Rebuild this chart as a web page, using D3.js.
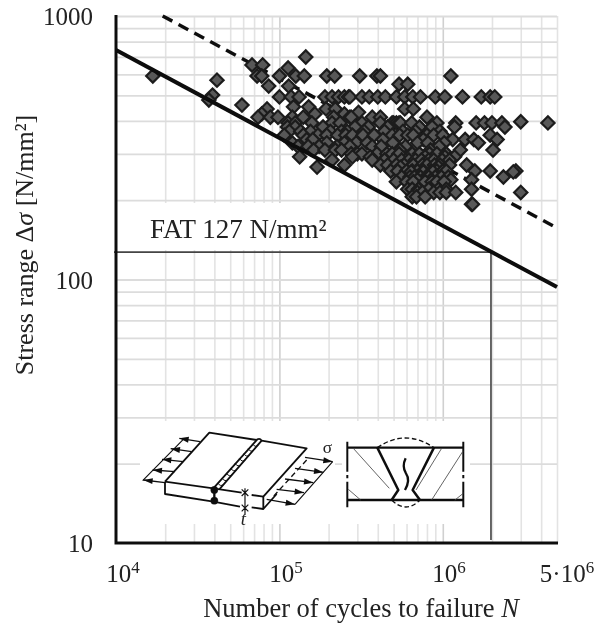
<!DOCTYPE html>
<html><head><meta charset="utf-8">
<script src="https://cdn.jsdelivr.net/npm/d3@7"></script>
<style>html,body{margin:0;padding:0;background:#fff}svg{display:block}text{font-family:"Liberation Serif",serif;fill:#222}</style>
</head><body><div id="c"></div>
<script>
// stress range levels (N/mm²) and the cycles to failure read at each level
const stressLevels=[699,652,635,592,571,551,542,501,493,480,459,452,444,431,425,413,397,393,379,365,353,340,330,320,310,300,292,284,272,267,258,256,245,239,235,220,214,206,193];
const cyclesAtLevel=[
[1.45e5],
[6.8e4,7.9e4],
[1.13e5],
[1.68e4,7.3e4,7.8e4,1e5,1.26e5,1.42e5,1.95e5,2.18e5,3.1e5,3.95e5,4.15e5,1.12e6],
[4.15e4],
[5.4e5,6.1e5],
[8.6e4,1.14e5],
[3.9e4],
[1e5,1.18e5,1.32e5,1.9e5,2.1e5,2.3e5,2.5e5,2.65e5,2.7e5,3.2e5,3.55e5,4e5,4.45e5,5.2e5,5.85e5,6.55e5,7.3e5,9e5,1.03e6,1.32e6,1.72e6,1.95e6,2.08e6],
[3.7e4],
[5.9e4],
[1.22e5,1.51e5],
[8.4e4,1.93e5,2.2e5,5.85e5,6.6e5],
[3.05e5],
[7.8e4,1.65e5,2.5e5],
[7.4e4,8.8e4,9.8e4,1.2e5,1.4e5,2.15e5,2.7e5,2.75e5,3.7e5,4.15e5,8e5],
[3e6],
[1.13e5,1.25e5,1.58e5,2.1e5,2.35e5,3.2e5,4.15e5,4.9e5,5e5,5.2e5,5.4e5,5.5e5,6.45e5,9.2e5,1.2e6,1.6e6,1.8e6,2e6,2.3e6,4.4e6],
[1.12e5,1.25e5,1.85e5,2.9e5,3.5e5,4.6e5,7.2e5,8.6e5,1.18e6,2.4e6],
[1.15e5,1.35e5,1.55e5,2.05e5,2.4e5,2.6e5,3.3e5,4.4e5,5.7e5,6.8e5,9.6e5],
[1.07e5,1.4e5,1.72e5,1.95e5,2.27e5,2.55e5,2.8e5,3.25e5,3.8e5,4.9e5,5.45e5,6.1e5,6.6e5,8e5,8.8e5,1e6,1.95e6],
[1.47e5,1.6e5,4.3e5,7.6e5,1.15e6,1.37e6,1.55e6,2.15e6],
[1.2e5,1.95e5,2.5e5,2.95e5,3.45e5,4.95e5,7e5,8.1e5,1.02e6,1.65e6],
[1.3e5,1.5e5,1.75e5,2.25e5,2.7e5,3.7e5,4.2e5,5.9e5,9.5e5],
[1.62e5,1.9e5,2.2e5,2.4e5,5.45e5,8.4e5,1.28e6,2.03e6],
[2.75e5,3e5,3.2e5,3.95e5,4.55e5,4.9e5,5.4e5,6.5e5,7.2e5,8.3e5,9.2e5,1.05e6],
[1.33e5,2.8e5,3.6e5,7.8e5,1.03e6,1.18e6],
[2.1e5,3.7e5,4.4e5,5e5,5.6e5,6.2e5,6.8e5,7.4e5,8.2e5,8.8e5,9.9e5,1.1e6],
[2.5e5,4.15e5,4.6e5,5.2e5,5.8e5,6.6e5,7.5e5,8e5,8.9e5,9.6e5,1.1e6,1.4e6],
[1.7e5,5.5e5,9.4e5],
[4.8e5,5.3e5,6e5,6.5e5,7e5,7.6e5,8.5e5,9.2e5,1e6,1.05e6,1.57e6,1.95e6,2.8e6],
[6.4e5,7.6e5,8.7e5,2.7e6],
[5.6e5,6.3e5,6.7e5,7.3e5,7.9e5,8.2e5,9e5,9.8e5,1.08e6,2.35e6],
[7e5,8.5e5,1.12e6,1.5e6],
[5.2e5,6e5,6.6e5,7.8e5,8.6e5,9.2e5,1.02e6],
[6.1e5,6.5e5,7.1e5,8.2e5,9.4e5,1.05e6,1.5e6],
[7e5,7.5e5,8.8e5,9.6e5,1.05e6,1.2e6,3e6],
[6.5e5,6.9e5,7.8e5],
[1.5e6,1.52e6]
];
const xDomain=[1e4,5e6], yDomain=[10,1000];
const xGridValues=[2e4,3e4,4e4,5e4,6e4,7e4,8e4,9e4,1e5,2e5,3e5,4e5,5e5,6e5,7e5,8e5,9e5,1e6,2e6,3e6,4e6,5e6];
const yGridValues=[20,30,40,50,60,70,80,90,100,200,300,400,500,600,700,800,900,1000];
const yTickValues=[10,100,1000];
const xTickLabels=[[1e4,"","4"],[1e5,"","5"],[1e6,"","6"],[5e6,"5·","6"]];
const fatClass=127, fatCycles=2e6, meanAtFat=213, slope=3, lineEnds=[1e4,5e6], dashedEnds=[19300,5e6];

const W=601,H=625,ml=116,mr=557,mt=16,mb=543;
const x=d3.scaleLog().domain(xDomain).range([ml,mr]);
const y=d3.scaleLog().domain(yDomain).range([mb,mt]);
const root=d3.select("#c").append("svg").attr("width",W).attr("height",H);
root.append("defs").append("filter").attr("id","soft").attr("x",0).attr("y",0).attr("width","100%").attr("height","100%")
 .append("feGaussianBlur").attr("stdDeviation",0.45);
const svg=root.append("g").attr("filter","url(#soft)");
svg.append("rect").attr("width",W).attr("height",H).attr("fill","#fff");

// grid
svg.append("g").attr("transform",`translate(0,${mb})`)
 .call(d3.axisBottom(x).tickValues(xGridValues).tickSize(-(mb-mt)).tickFormat(""))
 .call(g=>g.select(".domain").remove())
 .selectAll("line").attr("stroke",d=>(d===1e5||d===1e6)?"#d0d0d0":"#e3e3e3").attr("stroke-width",1.6);
svg.append("g").attr("transform",`translate(${ml},0)`)
 .call(d3.axisLeft(y).tickValues(yGridValues).tickSize(-(mr-ml)).tickFormat(""))
 .call(g=>g.select(".domain").remove())
 .selectAll("line").attr("stroke","#dcdcdc").attr("stroke-width",1.8);

// white panels behind label and inset
[[118,203,232,47],[140,421,195,103],[342,421,128,103]].forEach(r=>
 svg.append("rect").attr("x",r[0]).attr("y",r[1]).attr("width",r[2]).attr("height",r[3]).attr("fill","#fff"));

// FAT guide lines
const gx=x(fatCycles), gy=y(fatClass);
svg.append("path").attr("d",`M${ml-2},${gy}H${gx-1}V${mb-3}`).attr("fill","none").attr("stroke","#444").attr("stroke-width",1.6);

// S-N lines
const sn=(ref)=>n=>ref*Math.pow(fatCycles/n,1/slope);
const line=f=>d3.line().x(d=>x(d)).y(d=>y(f(d)));
svg.append("path").attr("d",line(sn(meanAtFat))(dashedEnds)).attr("fill","none").attr("stroke","#111").attr("stroke-width",3.5).attr("stroke-dasharray","11 7");

// points
const pts=stressLevels.flatMap((s,i)=>cyclesAtLevel[i].map(n=>({n,s})));
svg.append("g").selectAll("path").data(pts).join("path")
 .attr("d",d3.symbol(d3.symbolSquare,88)())
 .attr("transform",d=>`translate(${x(d.n)},${y(d.s)}) rotate(45)`)
 .attr("fill","#595959").attr("stroke","#1c1c1c").attr("stroke-width",2.2);

svg.append("path").attr("d",line(sn(fatClass))(lineEnds)).attr("fill","none").attr("stroke","#0a0a0a").attr("stroke-width",4);

// axes frame
svg.append("path").attr("d",`M${ml},${mt-1}V${mb}H${mr+1}`).attr("fill","none").attr("stroke","#111").attr("stroke-width",3);

// y tick labels
svg.append("g").selectAll("text").data(yTickValues).join("text")
 .attr("x",93).attr("y",d=>y(d)+9).attr("text-anchor","end").attr("font-size",25).text(d=>d);
// x tick labels
const xl=svg.append("g").selectAll("text").data(xTickLabels).join("text")
 .attr("y",582).attr("font-size",25).attr("text-anchor","middle")
 .attr("x",(d,i)=>[123,286,449,567][i]);
xl.append("tspan").text(d=>d[1]+"10");
xl.append("tspan").text(d=>d[2]).attr("font-size",17).attr("dy",-9);

svg.append("text").attr("x",361).attr("y",617).attr("text-anchor","middle").attr("font-size",26.5)
 .html('Number of cycles to failure <tspan font-style="italic">N</tspan>');
svg.append("text").attr("transform","translate(33,245) rotate(-90)").attr("text-anchor","middle").attr("font-size",26)
 .html('Stress range Δ<tspan font-style="italic">σ</tspan> [N/mm²]');
svg.append("text").attr("x",150).attr("y",238).attr("font-size",27).text("FAT 127 N/mm²");

// inset sketches (decorative illustration)
const ink=svg.append("g").attr("transform","translate(120,410) scale(0.3333)").attr("fill","none").attr("stroke","#111").attr("stroke-linejoin","round");
const p=(d,w,extra)=>{const e=ink.append("path").attr("d",d).attr("stroke-width",w||5.5);if(extra)e.attr("stroke-dasharray",extra);return e;};
p("M135,215L268,68L410,90M425,92L560,115L430,260V297L470,252");
p("M135,215L280,235L365,248M395,255L430,260M135,215V252L280,275L360,290M395,292L430,297");
p("M280,235L412,88Q420,84 425,92L298,238");
d3.range(1,10).forEach(i=>{const t=i/10,cx=289+(419-289)*t,cy=237+(90-237)*t;p(`M${cx-9},${cy-3}Q${cx},${cy+9} ${cx+9},${cy+1}`,3);});
p("M283,240V272",7);
ink.append("circle").attr("cx",283).attr("cy",240).attr("r",11).attr("fill","#111");
ink.append("circle").attr("cx",283).attr("cy",272).attr("r",11).attr("fill","#111");
p("M375,235V315M365,238L385,258M365,258L385,238M365,284L385,304M365,304L385,284",3.5);
p("M190,88L68,212M638,155L525,283",3.5);
p("M560,150L455,265",4,"16 10");
[[240,95,178,85],[215,125,152,116],[190,155,126,148],[165,185,98,180],[135,218,70,210],[555,142,638,155],[525,175,610,187],[495,207,580,218],[470,238,552,248],[440,268,525,283]].forEach(a=>{
 p(`M${a[0]},${a[1]}L${a[2]},${a[3]}`,4);
 const dx=a[2]-a[0],dy=a[3]-a[1],l=Math.hypot(dx,dy),ux=dx/l,uy=dy/l;
 ink.append("path").attr("d",`M${a[2]},${a[3]}L${a[2]-ux*28-uy*9},${a[3]-uy*28+ux*9}L${a[2]-ux*28+uy*9},${a[3]-uy*28-ux*9}Z`).attr("fill","#111").attr("stroke","none");
});
ink.append("text").attr("x",608).attr("y",130).attr("font-size",52).attr("stroke","none").text("σ");
ink.append("text").attr("x",362).attr("y",344).attr("font-size",56).attr("font-style","italic").attr("stroke","none").text("t");
// butt weld section
p("M682,95V185M682,195V205M682,215V292M1030,95V185M1030,195V205M1030,215V292",6);
p("M682,113H1030M682,270H1030",7);
p("M772,113L835,240L815,270M942,113L878,240L900,270",7.5);
p("M772,113Q855,55 942,113M815,270Q858,312 900,270",4,"14 8");
p("M700,115L808,235M685,238L722,270M965,115L888,240M1028,125L935,270M1030,250L1005,270",2.5).attr("stroke","#444");
p("M857,145Q845,170 858,190Q872,210 855,240",7);
</script></body></html>
